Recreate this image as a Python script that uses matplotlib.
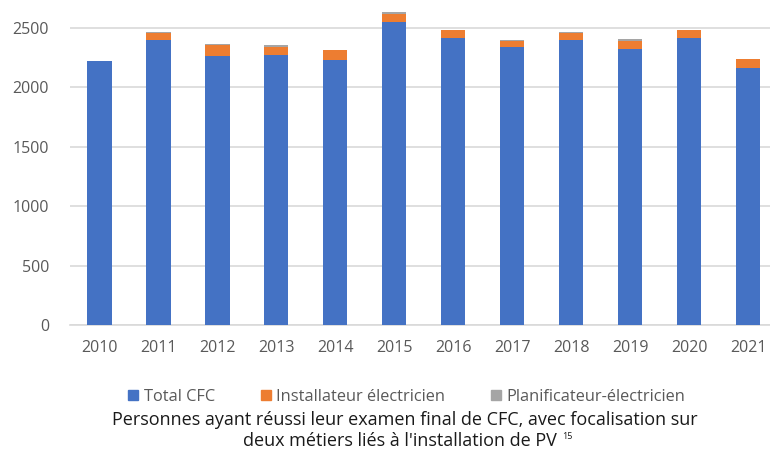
import matplotlib
matplotlib.use("Agg")
import matplotlib.pyplot as plt
import numpy as np
from matplotlib.patches import Patch

years = ["2010", "2011", "2012", "2013", "2014", "2015", "2016", "2017", "2018", "2019", "2020", "2021"]
total_cfc = [2219, 2402, 2267, 2272, 2230, 2552, 2413, 2338, 2402, 2327, 2413, 2167]
installateur = [0, 56, 88, 64, 81, 65, 67, 56, 56, 61, 67, 69]
planificateur = [0, 5, 6, 22, 6, 19, 6, 8, 5, 20, 6, 6]

blue, orange, grey = "#4472C4", "#ED7D31", "#A5A5A5"
tick_color = "#595959"
tick_font = ["Open Sans", "DejaVu Sans"]
cap_font = ["Open Sans", "DejaVu Sans"]

fig = plt.figure(figsize=(7.7, 4.5), dpi=100)
ax = fig.add_axes([70 / 770, 1 - 325 / 450, 700 / 770, (325 - 4.2) / 450])

x = np.arange(len(years))
w = 0.41
b = np.array(total_cfc)
i = np.array(installateur)
p = np.array(planificateur)
ax.bar(x, b, w, color=blue, zorder=3)
ax.bar(x, i, w, bottom=b, color=orange, zorder=3)
ax.bar(x, p, w, bottom=b + i, color=grey, zorder=3)

ax.set_xlim(-0.5, 11.37)
ax.set_ylim(0, 2700)
ax.set_yticks([0, 500, 1000, 1500, 2000, 2500])
ax.yaxis.grid(True, color="#D9D9D9", linewidth=1.2, zorder=0)
ax.set_axisbelow(True)
for s in ["top", "right", "left"]:
    ax.spines[s].set_visible(False)
ax.spines["bottom"].set_color("#D9D9D9")
ax.spines["bottom"].set_linewidth(1.2)
ax.tick_params(axis="both", length=0, labelsize=11.5, colors=tick_color)
ax.tick_params(axis="x", pad=11)
ax.tick_params(axis="y", pad=15)
ax.set_xticks(x)
ax.set_xticklabels(years)
for lab in ax.get_xticklabels() + ax.get_yticklabels():
    lab.set_fontfamily(tick_font)

handles = [Patch(color=blue, label="Total CFC"),
           Patch(color=orange, label="Installateur électricien"),
           Patch(color=grey, label="Planificateur-électricien")]
fig.legend(handles=handles, loc="center", bbox_to_anchor=(407 / 770, 1 - 397 / 450),
           ncol=3, frameon=False, handlelength=0.6, handleheight=0.6,
           handletextpad=0.35, columnspacing=2.8,
           prop={"family": tick_font, "size": 11.8}, labelcolor=tick_color)

fig.text(405 / 770, 1 - 420 / 450,
         "Personnes ayant réussi leur examen final de CFC, avec focalisation sur",
         ha="center", va="center", fontsize=13, family=cap_font, color="#1a1a1a")
t2 = fig.text(400 / 770, 1 - 446 / 450,
              "deux métiers liés à l'installation de PV",
              ha="center", va="baseline", fontsize=13, family=cap_font, color="#1a1a1a")
fig.canvas.draw()
bb = t2.get_window_extent()
fig.text((bb.x1 + 5) / 770, (1 - 446 / 450) + 7 / 450, "15", ha="left", va="baseline",
         fontsize=6.5, family=cap_font, color="#1a1a1a")

fig.savefig("out.png", dpi=100)
